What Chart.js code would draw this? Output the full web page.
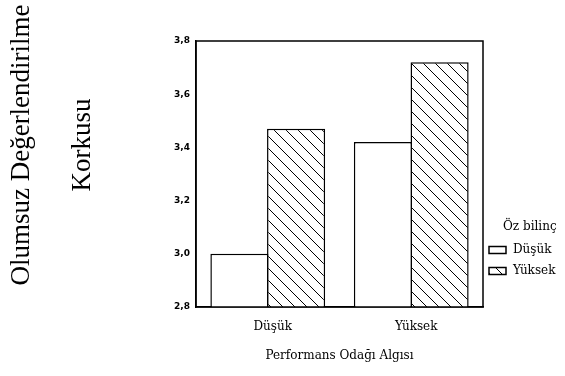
<!DOCTYPE html>
<html>
<head>
<meta charset="utf-8">
<script src="https://cdn.jsdelivr.net/npm/chart.js@4"></script>
<style>
  body { margin: 0; background: #fff; }
  #wrap { width: 565px; height: 376px; }
</style>
</head>
<body>
<div id="wrap"><canvas id="my-chart" width="565" height="376"></canvas></div>
<script>
"use strict";

// Data

let categories = ["Düşük", "Yüksek"];
let seriesNames = ["Düşük", "Yüksek"];
let dusukValues = [3.0, 3.42];
let yuksekValues = [3.47, 3.72];
let yTicks = [2.8, 3.0, 3.2, 3.4, 3.6, 3.8];

let yTitleLines = ["Olumsuz Değerlendirilme", "Korkusu"];
let xTitle = "Performans Odağı Algısı";
let legendTitle = "Öz bilinç";

// Hatch pattern for the second series

function makeHatch() {
  let c = document.createElement("canvas");
  c.width = 12;
  c.height = 12;
  let g = c.getContext("2d");
  g.fillStyle = "#fff";
  g.fillRect(0, 0, 12, 12);
  g.strokeStyle = "#000";
  g.lineWidth = 1;
  g.beginPath();
  g.moveTo(-2, -2);
  g.lineTo(14, 14);
  g.moveTo(-2, 10);
  g.lineTo(2, 14);
  g.moveTo(10, -2);
  g.lineTo(14, 2);
  g.stroke();
  return g.createPattern(c, "repeat");
}

let hatch = makeHatch();

// Box around the plot, rotated y title and the legend

let extras = {
  id: "extras",
  afterDraw(chart) {
    let ctx = chart.ctx;
    let a = chart.chartArea;
    ctx.save();
    ctx.strokeStyle = "#000";
    ctx.lineWidth = 1.5;
    ctx.strokeRect(a.left, a.top, a.right - a.left, a.bottom - a.top);

    // y title
    ctx.fillStyle = "#000";
    ctx.font = "27px 'Liberation Serif'";
    ctx.textAlign = "center";
    ctx.textBaseline = "middle";
    let titleX = [22, 83];
    for (let i = 0; i < yTitleLines.length; i++) {
      ctx.save();
      ctx.translate(titleX[i], 145);
      ctx.rotate(-Math.PI / 2);
      ctx.fillText(yTitleLines[i], 0, 0);
      ctx.restore();
    }

    // legend
    ctx.font = "12px 'DejaVu Serif'";
    ctx.textAlign = "left";
    ctx.fillText(legendTitle, 503, 227);
    let ds = chart.data.datasets;
    for (let i = 0; i < ds.length; i++) {
      let y = 250 + i * 21;
      ctx.fillStyle = ds[i].backgroundColor;
      ctx.fillRect(489, y - 3.5, 17, 7);
      ctx.strokeStyle = "#000";
      ctx.lineWidth = 1.5;
      ctx.strokeRect(489, y - 3.5, 17, 7);
      ctx.fillStyle = "#000";
      ctx.fillText(ds[i].label, 513, y);
    }
    ctx.restore();
  },
};

let ctx = document.getElementById("my-chart").getContext("2d");

let myChart = new Chart(ctx, {
  type: "bar",
  data: {
    labels: categories,
    datasets: [
      {
        label: seriesNames[0],
        data: dusukValues,
        backgroundColor: "#fff",
        borderColor: "#000",
        borderWidth: 1.5,
        base: yTicks[0],
      },
      {
        label: seriesNames[1],
        data: yuksekValues,
        backgroundColor: hatch,
        borderColor: "#000",
        borderWidth: 1.5,
        base: yTicks[0],
      },
    ],
  },
  options: {
    responsive: false,
    animation: false,
    categoryPercentage: 0.79,
    barPercentage: 1.025,
    layout: {
      padding: { left: 136, right: 82, top: 41, bottom: 9 },
    },
    plugins: {
      legend: { display: false },
      tooltip: { enabled: false },
    },
    scales: {
      x: {
        grid: { display: false, drawTicks: false },
        border: { display: true, color: "#000", width: 1.5 },
        ticks: {
          color: "#000",
          padding: 13,
          labelOffset: 5,
          font: { family: "'DejaVu Serif'", size: 12 },
        },
        title: {
          display: true,
          text: xTitle,
          color: "#000",
          font: { family: "'DejaVu Serif'", size: 12 },
          padding: { top: 0, bottom: 4 },
        },
        afterFit(scale) {
          scale.height = 60;
        },
      },
      y: {
        min: yTicks[0],
        max: yTicks[yTicks.length - 1],
        grid: { display: false, drawTicks: false },
        border: { display: true, color: "#000", width: 1.5 },
        afterBuildTicks(scale) {
          scale.ticks = yTicks.map((v) => ({ value: v }));
        },
        ticks: {
          color: "#000",
          padding: 6,
          font: { family: "'DejaVu Sans'", size: 9, weight: "bold" },
          callback: (v) => v.toFixed(1).replace(".", ","),
        },
        afterFit(scale) {
          scale.width = 60;
        },
      },
    },
  },
  plugins: [extras],
});
</script>
</body>
</html>
